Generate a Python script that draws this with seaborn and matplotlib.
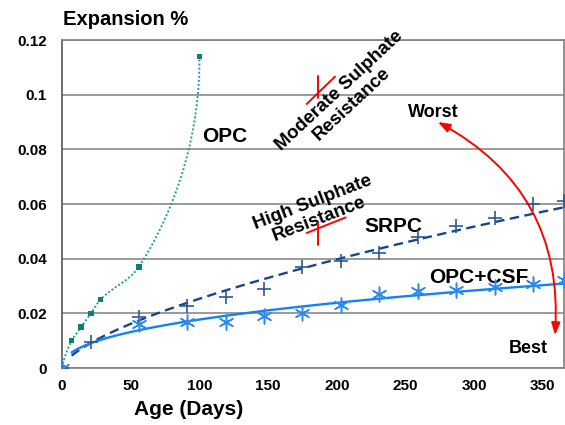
import numpy as np
import pandas as pd
import matplotlib
matplotlib.use("Agg")
import matplotlib.pyplot as plt
import seaborn as sns
from matplotlib.path import Path
from matplotlib.patches import PathPatch

# ---------------- data ----------------
opc_days = [0, 7, 14, 21, 28, 56, 100]
opc_exp = [0, 0.010, 0.015, 0.020, 0.025, 0.037, 0.114]

srpc_days = [0, 21, 56, 91, 119, 147, 175, 203, 231, 259, 287, 315, 343, 365]
srpc_exp = [0, 0.0096, 0.0188, 0.0227, 0.026, 0.029, 0.037, 0.039, 0.042,
            0.048, 0.052, 0.055, 0.060, 0.061]

csf_days = [0, 56, 91, 119, 147, 175, 203, 231, 259, 287, 315, 343, 365]
csf_exp = [0, 0.016, 0.017, 0.017, 0.019, 0.020, 0.023, 0.027, 0.0283,
           0.0285, 0.0297, 0.0306, 0.0322]

trend_start_day = 7
trend_end_day = 365

x_ticks = [0, 50, 100, 150, 200, 250, 300, 350]
y_ticks = [0, 0.02, 0.04, 0.06, 0.08, 0.10, 0.12]
y_tick_labels = ["0", "0.02", "0.04", "0.06", "0.08", "0.1", "0.12"]

# ---------------- style ----------------
sns.set_theme(style="white")
plt.rcParams["font.family"] = ["Liberation Sans", "DejaVu Sans"]
plt.rcParams["font.weight"] = "bold"
for key in ["text.color", "axes.labelcolor", "xtick.color", "ytick.color"]:
    plt.rcParams[key] = "black"

W, H, DPI = 5.65, 4.25, 100
fig = plt.figure(figsize=(W, H), dpi=DPI)
ax_pos = [62 / 565, 1 - 368 / 425, (563.5 - 62) / 565, (368 - 40) / 425]
ax = fig.add_axes(ax_pos)
XMAX, YMAX = 365, 0.12
ax.set_xlim(0, XMAX)
ax.set_ylim(0, YMAX)

# grid & spines
ax.yaxis.grid(True, color="#8a8a8a", linewidth=1.2)
ax.xaxis.grid(False)
ax.set_axisbelow(True)
for side in ["top", "right", "bottom"]:
    ax.spines[side].set_color("#7f7f7f")
    ax.spines[side].set_linewidth(1.2)
ax.spines["left"].set_color("#555555")
ax.spines["left"].set_linewidth(1.2)

ax.set_xticks(x_ticks)
ax.set_xticklabels([str(t) for t in x_ticks], fontsize=11, fontweight="bold", color="black")
ax.set_yticks(y_ticks)
ax.set_yticklabels(y_tick_labels, fontsize=11, fontweight="bold", color="black")
ax.tick_params(axis="both", length=0, labelcolor="black")
ax.tick_params(axis="y", pad=11)
ax.tick_params(axis="x", pad=8)

# pixel scale factors (for geometric smoothing like a spreadsheet "smooth line")
sx = ax_pos[2] * W * DPI / XMAX
sy = ax_pos[3] * H * DPI / YMAX


def smooth_path(xs, ys):
    P = np.column_stack([np.asarray(xs, float) * sx, np.asarray(ys, float) * sy])
    d = np.diff(P, axis=0)
    L = np.hypot(d[:, 0], d[:, 1])
    u = d / L[:, None]
    T = np.zeros_like(P)
    for i in range(1, len(P) - 1):
        t = u[i - 1] + u[i]
        T[i] = t / np.hypot(*t)
    T[0] = 2 * u[0] * np.dot(u[0], T[1]) - T[1]
    T[-1] = 2 * u[-1] * np.dot(u[-1], T[-2]) - T[-2]
    verts = [P[0]]
    codes = [Path.MOVETO]
    for i in range(len(P) - 1):
        verts += [P[i] + T[i] * L[i] / 3, P[i + 1] - T[i + 1] * L[i] / 3, P[i + 1]]
        codes += [Path.CURVE4] * 3
    verts = np.array(verts) / np.array([sx, sy])
    return Path(verts, codes)


# OPC: dotted smooth line + square markers
opc_path = smooth_path(opc_days, opc_exp)
ax.add_patch(PathPatch(opc_path, facecolor="none", edgecolor="#1f9e9a",
                       linewidth=1.4, linestyle=(0, (1, 1.1)), zorder=3))
sns.scatterplot(x=opc_days, y=opc_exp, marker="s", s=16, color="#0b7f78",
                edgecolor="none", ax=ax, zorder=4, legend=False)


# power trendlines fitted to the series (as the original spreadsheet did)
def power_fit(days, vals):
    d = np.asarray(days, float)
    v = np.asarray(vals, float)
    m = d > 0
    b, ln_a = np.polyfit(np.log(d[m]), np.log(v[m]), 1)
    return np.exp(ln_a), b


tx = np.linspace(trend_start_day, trend_end_day, 300)
a_s, b_s = power_fit(srpc_days, srpc_exp)
a_c, b_c = power_fit(csf_days, csf_exp)
trend = pd.DataFrame({"day": tx, "srpc": a_s * tx ** b_s, "csf": a_c * tx ** b_c})

sns.lineplot(data=trend, x="day", y="srpc", ax=ax, color="#17478a",
             linewidth=1.7, linestyle=(0, (4, 2.3)), zorder=3)
sns.lineplot(data=trend, x="day", y="csf", ax=ax, color="#1482f5",
             linewidth=1.7, zorder=3)

sns.scatterplot(x=srpc_days, y=srpc_exp, marker="+", s=110, color="#2c5a96",
                linewidth=1.2, ax=ax, zorder=5, legend=False)
sns.scatterplot(x=csf_days, y=csf_exp, marker=(6, 2, 0), s=110, color="#2b8cf0",
                linewidth=1.1, ax=ax, zorder=5, legend=False)

ax.set_xlabel("")
ax.set_ylabel("")

# axis titles
fig.text(63 / 565, 1 - 25 / 425, "Expansion %", fontsize=14.5, fontweight="bold",
         ha="left", va="baseline", color="black")
fig.text(189 / 565, 1 - 415 / 425, "Age (Days)", fontsize=15, fontweight="bold",
         ha="center", va="baseline", color="black")

# series labels
lab = dict(fontweight="bold", ha="center", va="baseline", color="black")
ax.text(118.6, 0.0828, "OPC", fontsize=15, **lab)
ax.text(241.3, 0.0499, "SRPC", fontsize=15, **lab)
ax.text(303.3, 0.0310, "OPC+CSF", fontsize=15, **lab)
ax.text(270.3, 0.0919, "Worst", fontsize=13, **lab)
ax.text(339.3, 0.0054, "Best", fontsize=13, **lab)

ax.text(206.3, 0.0990, "Moderate Sulphate\nResistance", fontsize=13.5, fontweight="bold",
        ha="center", va="center", rotation=43, multialignment="center",
        linespacing=1.0, color="black")
ax.text(184.7, 0.0575, "High Sulphate\nResistance", fontsize=13.5, fontweight="bold",
        ha="center", va="center", rotation=21, multialignment="center",
        linespacing=1.0, color="black")

# red marks
red = "#ff0000"
ax.plot([178.1, 198.7], [0.0966, 0.1066], color=red, lw=1.4, zorder=6)
ax.plot([186.1, 186.1], [0.0988, 0.1068], color=red, lw=1.4, zorder=6)
ax.plot([178.1, 206.5], [0.0494, 0.0551], color=red, lw=1.4, zorder=6)
ax.plot([186.1, 186.1], [0.0450, 0.0531], color=red, lw=1.4, zorder=6)

# worst <-> best arrow
ax.annotate("", xy=(358.8, 0.0121), xytext=(273.6, 0.0900),
            arrowprops=dict(arrowstyle="<|-|>,head_length=0.6,head_width=0.22",
                            color=red, lw=1.4, shrinkA=0, shrinkB=0,
                            connectionstyle="arc3,rad=-0.32"), zorder=6)

fig.savefig("out.png", dpi=DPI)
